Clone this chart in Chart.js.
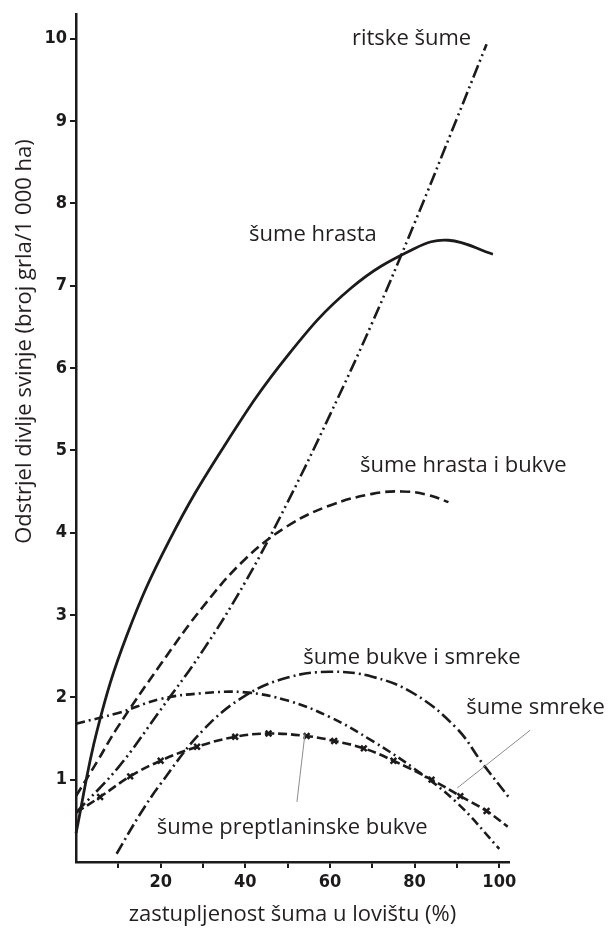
<!DOCTYPE html>
<html lang="hr">
<head>
<meta charset="utf-8">
<title>Odstrjel divlje svinje</title>
<script src="https://cdn.jsdelivr.net/npm/chart.js@4.4.1/dist/chart.umd.min.js"></script>
<style>
  html, body { margin:0; padding:0; background:#fff; }
  #wrap { width:608px; height:929px; }
</style>
</head>
<body>
<div id="wrap"><canvas id="chart" width="608" height="929"></canvas></div>
<script>
// x = zastupljenost šuma u lovištu (%), y = odstrjel (grla / 1000 ha) — očitano s grafa

const ritskeX = [0, 10, 20, 30, 40, 50, 60, 70, 80, 90, 97];
const ritskeY = [0.6, 1.15, 1.85, 2.57, 3.4, 4.37, 5.43, 6.55, 7.76, 9.03, 9.93];

const hrastaX = [0, 5, 12, 22, 35, 50, 65, 80, 88, 98.5];
const hrastaY = [0.35, 1.6, 2.75, 3.9, 5.05, 6.15, 6.97, 7.45, 7.55, 7.38];

const hrastaBukveX = [0, 5, 10, 20, 30, 40, 50, 60, 70, 77, 83, 88];
const hrastaBukveY = [0.8, 1.22, 1.65, 2.4, 3.1, 3.68, 4.08, 4.33, 4.47, 4.5, 4.46, 4.37];

const bukveSmrekeX = [9.6, 15, 20, 30, 40, 50, 60, 70, 80, 90, 96, 102.5];
const bukveSmrekeY = [0.1, 0.57, 0.95, 1.6, 2.02, 2.24, 2.31, 2.25, 2.04, 1.62, 1.2, 0.77];

const smrekeX = [0, 5.7, 12.8, 20, 28.6, 37.6, 45.5, 54.5, 61, 68, 75, 84, 90.8, 97, 102];
const smrekeY = [0.6, 0.79, 1.04, 1.23, 1.4, 1.52, 1.56, 1.53, 1.47, 1.38, 1.23, 1.0, 0.8, 0.62, 0.43];

const preptlX = [0, 10, 20, 30, 40, 50, 60, 70, 80, 90, 100];
const preptlY = [1.68, 1.81, 1.98, 2.05, 2.06, 1.96, 1.76, 1.47, 1.13, 0.72, 0.16];

const xTickLabels = [20, 40, 60, 80, 100];
const yTickLabels = [1, 2, 3, 4, 5, 6, 7, 8, 9, 10];

const X_TITLE = 'zastupljenost šuma u lovištu (%)';
const Y_TITLE = 'Odstrjel divlje svinje (broj grla/1 000 ha)';

// natpisi krivulja (u koordinatama grafa)
const LABELS = [
  {text:'ritske šume',              x:65.2, y:10.0},
  {text:'šume hrasta',              x:40.9, y:7.62},
  {text:'šume hrasta i bukve',      x:67.1, y:4.81},
  {text:'šume bukve i smreke',      x:53.7, y:2.48},
  {text:'šume smreke',              x:92.2, y:1.87},
  {text:'šume preptlaninske bukve', x:19.1, y:0.42},
];
const LEADERS = [
  [52.2, 0.73, 54.1, 1.56],
  [107.3, 1.6, 90.1, 0.9],
];

const INK = '#1c1a1b';
const FONT = "'Open Sans', 'DejaVu Sans', sans-serif";
const TICK_FONT = {family:"'Liberation Sans Narrow', 'DejaVu Sans Condensed', 'Liberation Sans', sans-serif", size:18, weight:'bold'};

const pts = (xs, ys) => xs.map((x, i) => ({x, y: ys[i]}));

function curve(data, dash, extra) {
  return Object.assign({
    data, borderColor:INK, borderWidth:2.6, borderDash:dash,
    pointRadius:0, fill:false, tension:0.4, clip:false,
  }, extra || {});
}

const labelsPlugin = {
  id:'curveLabels',
  afterDraw(chart) {
    const {ctx, chartArea, scales:{x, y}} = chart;
    ctx.save();
    ctx.fillStyle = '#231f20';
    ctx.font = `22px ${FONT}`;
    ctx.textBaseline = 'middle';
    ctx.textAlign = 'left';
    LABELS.forEach(l => ctx.fillText(l.text, x.getPixelForValue(l.x), y.getPixelForValue(l.y)));

    ctx.strokeStyle = '#8c8c8c';
    ctx.lineWidth = 1;
    LEADERS.forEach(([x1, y1, x2, y2]) => {
      ctx.beginPath();
      ctx.moveTo(x.getPixelForValue(x1), y.getPixelForValue(y1));
      ctx.lineTo(x.getPixelForValue(x2), y.getPixelForValue(y2));
      ctx.stroke();
    });

    // naslov osi y
    ctx.translate(chartArea.left - 51, y.getPixelForValue(6.32));
    ctx.rotate(-Math.PI / 2);
    ctx.textAlign = 'center';
    ctx.fillText(Y_TITLE, 0, 0);
    ctx.restore();
  }
};

const hideZero = c => (c.tick && c.tick.value === 0) ? 'rgba(0,0,0,0)' : INK;

new Chart(document.getElementById('chart'), {
  type:'line',
  data:{
    datasets:[
      curve(pts(ritskeX, ritskeY), [13,4,2,4,2,4], {label:'ritske šume'}),
      curve(pts(hrastaX, hrastaY), [], {label:'šume hrasta', borderWidth:2.8}),
      curve(pts(hrastaBukveX, hrastaBukveY), [10,5], {label:'šume hrasta i bukve'}),
      curve(pts(bukveSmrekeX, bukveSmrekeY), [12,4,2,4], {label:'šume bukve i smreke'}),
      curve(pts(smrekeX, smrekeY), [9,4], {
        label:'šume smreke', pointStyle:'crossRot',
        pointRadius:smrekeX.map((v, i) => (i === 0 || i === smrekeX.length - 1) ? 0 : 4),
        pointBorderColor:INK, pointBorderWidth:2.5,
      }),
      curve(pts(preptlX, preptlY), [9,4,2,4], {label:'šume preptlaninske bukve'}),
    ]
  },
  options:{
    responsive:false, animation:false,
    layout:{padding:{top:12, right:99, bottom:0, left:0}},
    plugins:{legend:{display:false}, tooltip:{enabled:false}},
    scales:{
      x:{
        type:'linear', min:0, max:102.3,
        afterFit: s => { s.height = 67; },
        border:{color:INK, width:2.5},
        grid:{drawOnChartArea:false, drawTicks:true, tickLength:6, lineWidth:2, color:hideZero},
        ticks:{
          stepSize:10, includeBounds:false, padding:4, color:INK, font:TICK_FONT, maxRotation:0,
          callback: v => xTickLabels.includes(v) ? String(v) : '',
        },
        title:{display:true, text:X_TITLE, color:'#231f20', font:{family:FONT, size:22}, padding:{top:0, bottom:1}},
      },
      y:{
        min:0, max:10.3,
        afterFit: s => { s.width = 76; },
        border:{color:INK, width:2.5},
        grid:{drawOnChartArea:false, drawTicks:true, tickLength:6, lineWidth:2, color:hideZero},
        ticks:{
          stepSize:1, includeBounds:false, padding:3, color:INK, font:TICK_FONT,
          callback: v => yTickLabels.includes(v) ? String(v) : '',
        },
      }
    }
  },
  plugins:[labelsPlugin]
});
</script>
</body>
</html>
